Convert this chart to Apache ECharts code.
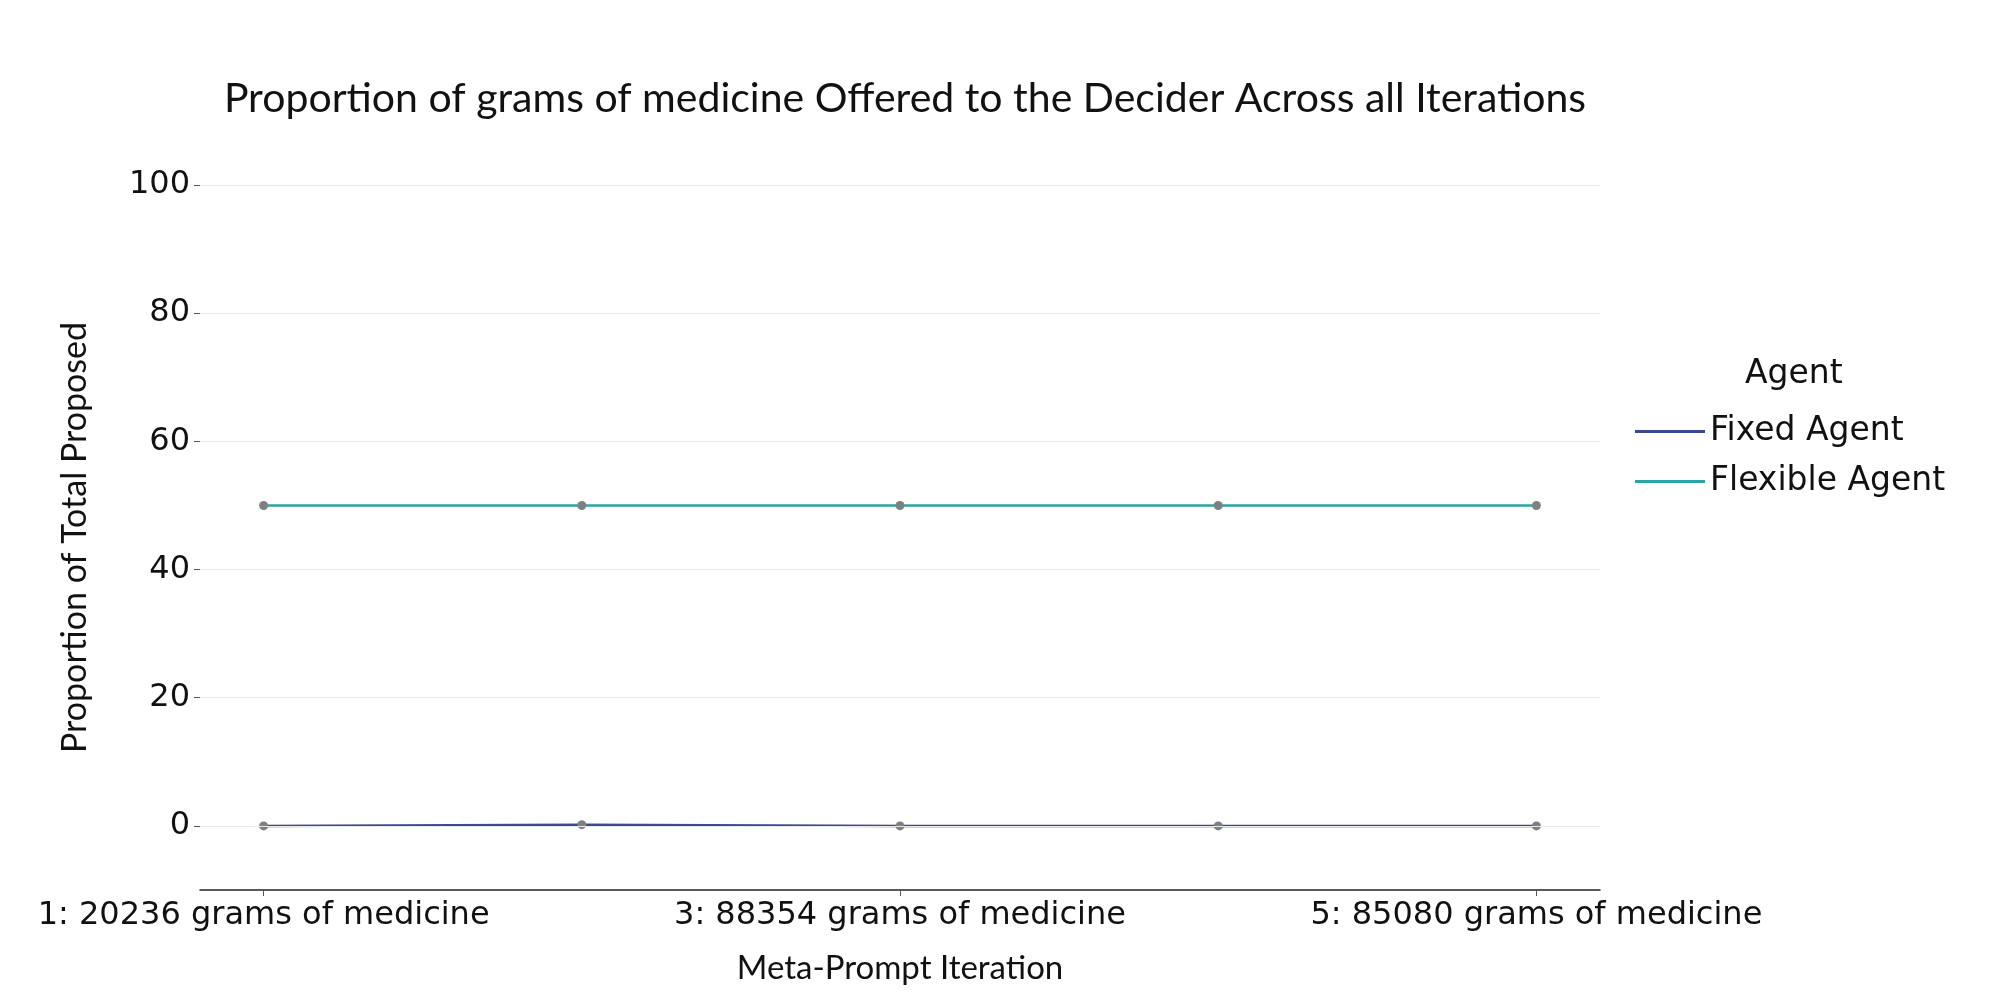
<!DOCTYPE html>
<html>
<head>
<meta charset="utf-8">
<script src="https://cdn.jsdelivr.net/npm/echarts@6/dist/echarts.min.js"></script>
<style>html,body{margin:0;padding:0;background:#fff}#chart{width:2000px;height:1000px}</style>
</head>
<body>
<div id="chart"></div>
<script>
var iterations = [1, 2, 3, 4, 5];
var iterationLabels = ['1: 20236 grams of medicine', '2: 68906 grams of medicine', '3: 88354 grams of medicine',
    '4: 62584 grams of medicine', '5: 85080 grams of medicine'];
var fixedAgent = [0, 0.2, 0, 0, 0];
var flexibleAgent = [50, 50, 50, 50, 50];
var yTicks = [0, 20, 40, 60, 80, 100];

var font = 'Lato, "Open Sans", sans-serif';
var tickFont = '"DejaVu Sans", sans-serif';

var toPairs = function(values) {
    var list = [];
    for (var i = 0; i < values.length; i++) {
        list.push([iterations[i], values[i]]);
    }
    return list;
};

var lineSeries = function(name, color, values) {
    return {
        name: name,
        type: 'line',
        data: toPairs(values),
        symbol: 'circle',
        symbolSize: 9,
        itemStyle: {color: '#808080'},
        lineStyle: {color: color, width: 2.5},
        emphasis: {disabled: true}
    };
};

var myChart = echarts.init(document.getElementById('chart'));
myChart.setOption({
    animation: false,
    title: {
        text: 'Proportion of grams of medicine Offered to the Decider Across all Iterations',
        left: 900, top: 73, textAlign: 'center',
        textStyle: {fontSize: 41, fontWeight: 'normal', color: '#111', fontFamily: font}
    },
    legend: {
        left: 1630, top: 410, orient: 'vertical', itemWidth: 70, itemHeight: 3, itemGap: 17,
        icon: 'rect',
        textStyle: {fontSize: 33, color: '#111', fontFamily: tickFont},
        data: [
            {name: 'Fixed Agent', itemStyle: {color: '#3b4a8f'}},
            {name: 'Flexible Agent', itemStyle: {color: '#2aa5a5'}}
        ]
    },
    graphic: [{
        type: 'text', left: 1745, top: 358,
        style: {text: 'Agent', fontSize: 33, fill: '#111', fontFamily: tickFont}
    }],
    grid: {left: 200, right: 400, top: 185, bottom: 110},
    xAxis: {
        type: 'value', min: 0.8, max: 5.2,
        name: 'Meta-Prompt Iteration', nameLocation: 'middle', nameGap: 62,
        nameTextStyle: {fontSize: 33, color: '#111', fontFamily: font},
        axisLine: {onZero: false, lineStyle: {color: '#222', width: 1.5}},
        axisTick: {customValues: iterations, length: 6, lineStyle: {color: '#555'}},
        axisLabel: {
            customValues: iterations, fontSize: 32, color: '#111', fontFamily: tickFont, margin: 10,
            hideOverlap: false, showMinLabel: true, showMaxLabel: true,
            formatter: function(v) { return iterationLabels[Math.round(v) - 1]; }
        },
        splitLine: {show: false}
    },
    yAxis: {
        type: 'value', min: -10, max: 100,
        name: 'Proportion of Total Proposed', nameLocation: 'middle', nameGap: 108,
        nameTextStyle: {fontSize: 34, color: '#111', fontFamily: font},
        axisLine: {show: false},
        axisTick: {show: true, customValues: yTicks, length: 6, lineStyle: {color: '#555'}},
        axisLabel: {customValues: yTicks, fontSize: 32, color: '#111', fontFamily: tickFont, margin: 10},
        splitLine: {show: false}
    },
    series: [
        lineSeries('Fixed Agent', '#3b4a8f', fixedAgent),
        lineSeries('Flexible Agent', '#2aa5a5', flexibleAgent),
        {
            type: 'line', data: [], silent: true,
            markLine: {
                silent: true, symbol: 'none', label: {show: false},
                lineStyle: {color: '#e8e8e8', width: 1, type: 'solid'},
                data: yTicks.map(function(v) { return {yAxis: v}; })
            },
            z: 0
        }
    ]
});
</script>
</body>
</html>
